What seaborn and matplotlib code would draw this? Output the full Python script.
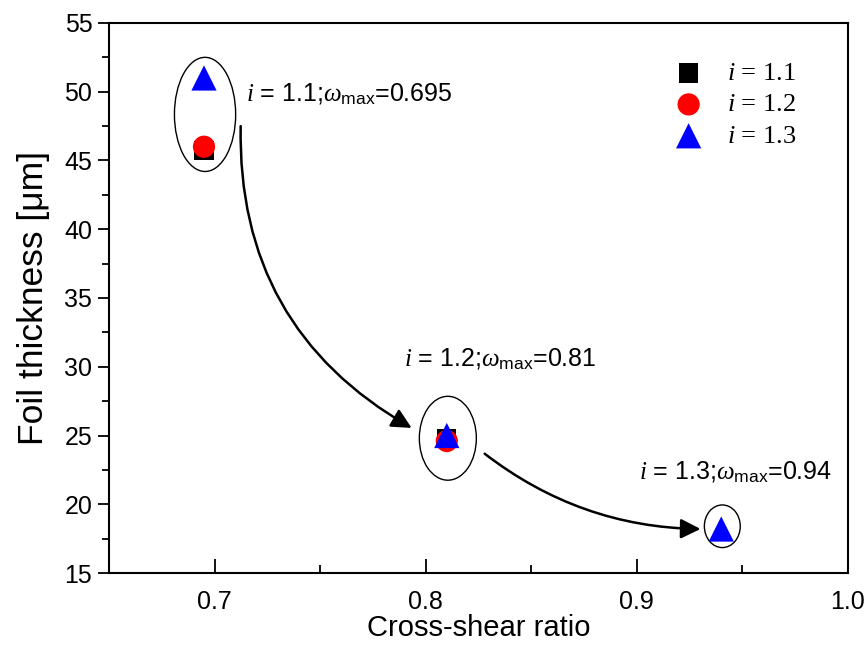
import matplotlib
matplotlib.use("Agg")
import matplotlib.pyplot as plt
from matplotlib.patches import Ellipse, FancyArrowPatch
from matplotlib.ticker import MultipleLocator
import seaborn as sns
import pandas as pd
import numpy as np

# Cross-shear ratio and foil thickness for each speed ratio i
series = ["i = 1.1", "i = 1.2", "i = 1.3"]
cross_shear = [0.695, 0.81, 0.94]
thick_i11 = [45.7, 24.8, np.nan]
thick_i12 = [46.0, 24.6, np.nan]
thick_i13 = [51.0, 25.0, 18.2]
omega_max = ["0.695", "0.81", "0.94"]

legend_labels = [r"$i$ = 1.1", r"$i$ = 1.2", r"$i$ = 1.3"]

df = pd.DataFrame({
    "ratio": cross_shear * 3,
    "thickness": thick_i11 + thick_i12 + thick_i13,
    "series": [s for s in series for _ in cross_shear],
})

sns.set_theme(style="white")
plt.rcParams["font.family"] = ["Liberation Sans", "DejaVu Sans"]
plt.rcParams["mathtext.fontset"] = "custom"
plt.rcParams["mathtext.rm"] = "Liberation Sans"
plt.rcParams["mathtext.it"] = "Liberation Serif:italic"
plt.rcParams["mathtext.sf"] = "Liberation Sans"
for key in ["text.color", "axes.labelcolor", "xtick.color", "ytick.color"]:
    plt.rcParams[key] = "black"

fig = plt.figure(figsize=(8.67, 6.56), dpi=100)
ax = fig.add_axes([0.1257, 0.1265, 0.978 - 0.1257, 0.965 - 0.1265])

styles = {
    "i = 1.1": dict(marker="s", color="black", s=190),
    "i = 1.2": dict(marker="o", color="red", s=256),
    "i = 1.3": dict(marker="^", color="blue", s=330),
}
for name, lab in zip(series, legend_labels):
    sub = df[(df["series"] == name) & df["thickness"].notna()]
    st = styles[name]
    sns.scatterplot(data=sub, x="ratio", y="thickness", marker=st["marker"],
                    color=st["color"], s=st["s"], edgecolor="none",
                    linewidth=0, label=lab, ax=ax, zorder=3)

# Outline around each group of points
ell_w = [0.029, 0.027, 0.017]
ell_h = [8.3, 6.1, 3.1]
ell_dy = [0.0, 0.0, 0.2]
for k, x in enumerate(cross_shear):
    ys = [v for v in (thick_i11[k], thick_i12[k], thick_i13[k]) if not np.isnan(v)]
    cy = (min(ys) + max(ys)) / 2 + ell_dy[k]
    ax.add_patch(Ellipse((x + 0.0005, cy), ell_w[k], ell_h[k], fill=False,
                         edgecolor="black", linewidth=1.0, zorder=2))

# Curved arrows linking the groups
arrows = [((0.7124, 47.7), (0.7945, 25.45), 0.3),
          ((0.8269, 23.8), (0.9315, 18.2), 0.17)]
for start, end, rad in arrows:
    ax.add_patch(FancyArrowPatch(start, end, connectionstyle=f"arc3,rad={rad}",
                                 arrowstyle="-|>", mutation_scale=30,
                                 linewidth=1.8, color="black", zorder=4))

# Group annotations
label_pos = [(0.7148, 49.3), (0.7895, 30.05), (0.9012, 21.8)]
for (lx, ly), s, om in zip(label_pos, series, omega_max):
    num = s.split("=")[1].strip()
    ax.text(lx, ly, r"$i$ = " + num + r";$\omega_{\mathrm{max}}$=" + om,
            fontsize=18, va="baseline", ha="left", color="black")

ax.set_xlim(0.65, 1.0)
ax.set_ylim(15, 55)
ax.xaxis.set_minor_locator(MultipleLocator(0.05))
ax.yaxis.set_major_locator(MultipleLocator(5))
ax.yaxis.set_minor_locator(MultipleLocator(2.5))
ax.set_xticks([0.7, 0.8, 0.9, 1.0])
ax.set_xticklabels(["0.7", "0.8", "0.9", "1.0"])

ax.tick_params(axis="x", which="major", direction="in", length=10, width=1.3,
               labelsize=18, pad=12, bottom=True, top=False)
ax.tick_params(axis="x", which="minor", direction="in", length=6, width=1.3,
               bottom=True, top=False)
ax.tick_params(axis="y", which="major", direction="out", length=8, width=1.3,
               labelsize=18, pad=4, left=True, right=False)
ax.tick_params(axis="y", which="minor", direction="out", length=5, width=1.3,
               left=True, right=False)

for sp in ax.spines.values():
    sp.set_visible(True)
    sp.set_color("black")
    sp.set_linewidth(1.5)

ax.set_xlabel("Cross-shear ratio", fontsize=21, labelpad=0)
ax.set_ylabel("Foil thickness [\u03bcm]", fontsize=25.5, labelpad=10)

leg = ax.legend(loc="upper right", bbox_to_anchor=(0.93, 0.93), frameon=False,
                prop={"family": "Liberation Serif", "size": 19},
                handlelength=1.5, handletextpad=0.7, labelspacing=0.3,
                borderpad=0, borderaxespad=0)

fig.savefig("out.png", dpi=100)
